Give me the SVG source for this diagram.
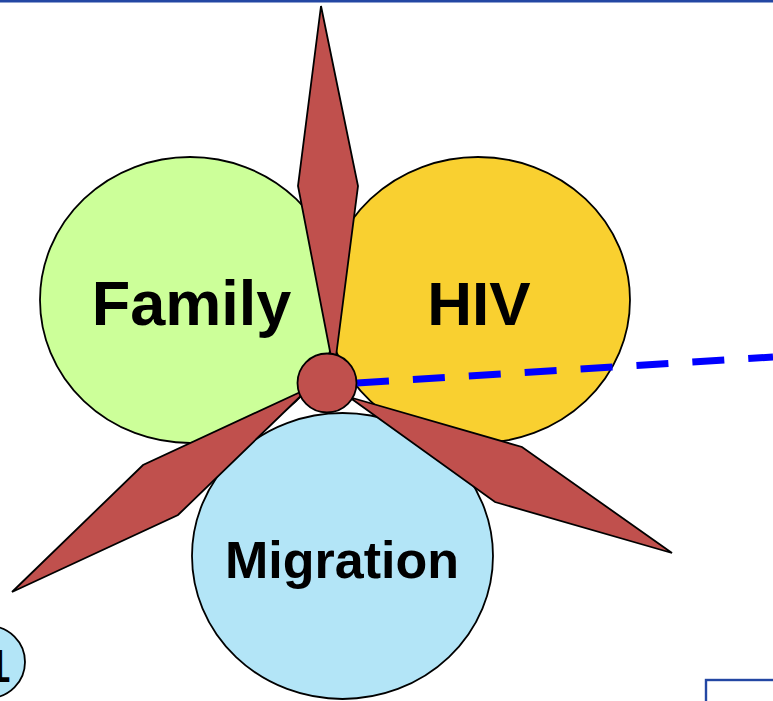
<svg xmlns="http://www.w3.org/2000/svg" width="773" height="701" viewBox="0 0 773 701">
<style>
.node ellipse, .node circle { stroke: #000; stroke-width: 1.8; }
.blade { fill: #c0504d; stroke: #000; stroke-width: 1.8; stroke-linejoin: miter; }
.lbl { font-family: "Liberation Sans", Arial, sans-serif; font-weight: bold; fill: #000; text-anchor: middle; }
.frame { fill: none; stroke: #2347a3; stroke-width: 2.4; }
</style>
<rect x="0" y="0" width="773" height="701" fill="#ffffff"/>
<line class="frame" x1="0" y1="1.2" x2="773" y2="1.2"/>
<rect class="frame" x="706" y="680" width="80" height="40" fill="#ffffff"/>
<g id="node-1">
<circle cx="-11" cy="662" r="36" fill="#b3e5f7" stroke="#000" stroke-width="1.8"/>
<text class="lbl" x="-15" y="682" font-size="46" style="text-anchor:start">1</text>
</g>
<g id="family" class="node">
<ellipse cx="190" cy="300" rx="150" ry="143" fill="#ccff99"/>
<text class="lbl" x="191.5" y="325" font-size="63">Family</text>
</g>
<g id="hiv" class="node">
<ellipse cx="478" cy="300" rx="152" ry="143" fill="#f9d030"/>
<text class="lbl" x="479" y="325" font-size="62">HIV</text>
</g>
<g id="migration" class="node">
<ellipse cx="342.5" cy="556" rx="150.5" ry="143" fill="#b3e5f7"/>
<text class="lbl" x="342" y="578" font-size="52">Migration</text>
</g>
<g id="connectors">
<line x1="357" y1="383" x2="773" y2="357" stroke="#0000ff" stroke-width="7" stroke-dasharray="32 24"/>
</g>
<g id="windmill">
<polygon class="blade" points="321,6 358,186 334,372 298,186"/>
<polygon class="blade" points="12,592 143,465 309,388 178,515"/>
<polygon class="blade" points="672,553 522,447 349,397 495,502"/>
<circle cx="327" cy="383" r="29.5" fill="#c0504d" stroke="#000" stroke-width="1.8"/>
</g>
</svg>
